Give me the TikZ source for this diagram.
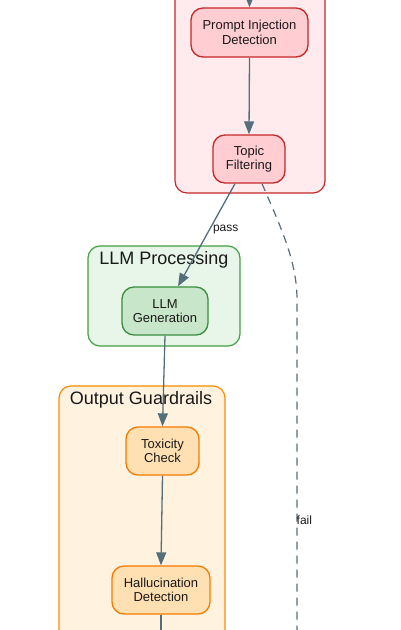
\documentclass[tikz,border=0pt]{standalone}
\usepackage{fontspec}
\setmainfont{Liberation Sans}
\usetikzlibrary{arrows.meta}
\definecolor{edgec}{HTML}{546E7A}
\definecolor{redfill}{HTML}{FFEBEE}
\definecolor{redline}{HTML}{C62828}
\definecolor{rednode}{HTML}{FFCDD2}
\definecolor{greenfill}{HTML}{E8F5E9}
\definecolor{greenline}{HTML}{43A047}
\definecolor{greennode}{HTML}{C8E6C9}
\definecolor{greennodeline}{HTML}{388E3C}
\definecolor{orangefill}{HTML}{FFF3E0}
\definecolor{orangeline}{HTML}{FB8C00}
\definecolor{orangenode}{HTML}{FFE0B2}
\definecolor{orangenodeline}{HTML}{F57C00}
\tikzset{
  clusterbox/.style={rounded corners=12pt, line width=1.2pt},
  procbox/.style={rounded corners=12pt, line width=1.3pt, align=center,
    font=\fontsize{13}{14.5}\selectfont, text=black!90, inner sep=0pt},
  flow/.style={draw=edgec, line width=1.3pt, -{Triangle[length=13pt,width=10pt]}},
  flowplain/.style={draw=edgec, line width=1.3pt},
  faildash/.style={draw=edgec, line width=1.2pt, dash pattern=on 8pt off 6pt},
  ctitle/.style={font=\fontsize{18}{20}\selectfont, text=black!90},
  elabel/.style={font=\fontsize{12}{14}\selectfont, text=black!90, inner sep=0pt}
}
\begin{document}
\begin{tikzpicture}[x=1pt,y=-1pt]
\useasboundingbox (0,0) rectangle (401,630);
% clusters
\draw[clusterbox, fill=redfill, draw=redline] (175,-30) rectangle (325,193);
\draw[clusterbox, fill=greenfill, draw=greenline] (88,246) rectangle (240,346);
\draw[clusterbox, fill=orangefill, draw=orangeline] (59,386) rectangle (225,660);
\node[ctitle] (t1) at (164,260) {LLM Processing};
\node[ctitle] (t2) at (141,400) {Output Guardrails};
% nodes
\node[procbox, fill=rednode, draw=redline, minimum width=117pt, minimum height=49pt] (pid) at (249.5,32.5) {Prompt Injection\\Detection};
\node[procbox, fill=rednode, draw=redline, minimum width=72pt, minimum height=48pt] (tf) at (249,159) {Topic\\Filtering};
\node[procbox, fill=greennode, draw=greennodeline, minimum width=86pt, minimum height=48pt] (llm) at (165,311) {LLM\\Generation};
\node[procbox, fill=orangenode, draw=orangenodeline, minimum width=73pt, minimum height=48pt] (tox) at (162.5,451) {Toxicity\\Check};
\node[procbox, fill=orangenode, draw=orangenodeline, minimum width=98pt, minimum height=48pt] (hal) at (161,590) {Hallucination\\Detection};
\coordinate (intop) at (249.5,-2);
\coordinate (halout) at (161,632);
\coordinate (failbend) at (297,300);
\coordinate (failend) at (297,632);
% edges
\draw[flow] (intop) -- (pid.north);
\draw[flow] (pid.south) -- (tf.north);
\draw[flow] ([xshift=-14pt]tf.south) -- node[elabel, pos=0.45, right=3pt] (passlbl) {pass} ([xshift=13pt]llm.north);
\draw[flow] (llm.south) -- (tox.north);
\draw[flow] (tox.south) -- (hal.north);
\draw[flowplain] (hal.south) -- (halout);
\draw[faildash] ([xshift=13pt]tf.south) .. controls (282,230) and (297,262) .. (failbend) -- (failend);
\node[elabel, anchor=west] (faillbl) at (296.5,520) {fail};
\end{tikzpicture}
\end{document}
